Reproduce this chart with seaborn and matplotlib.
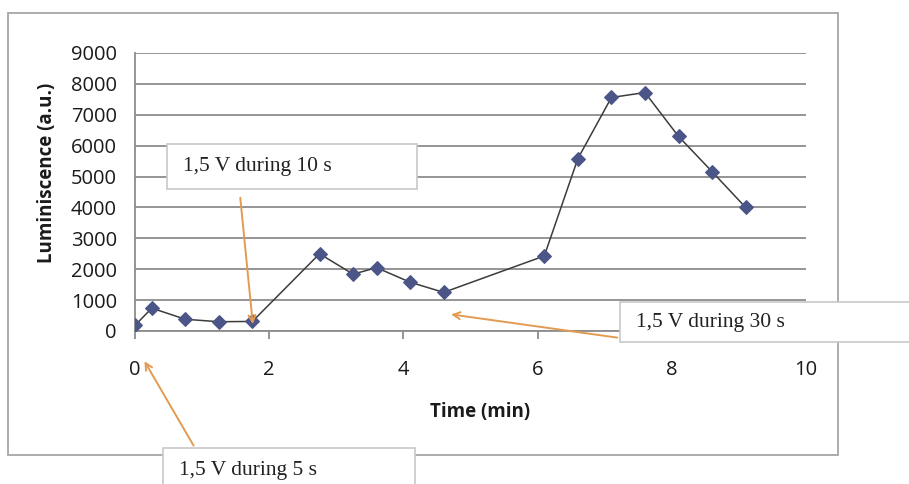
import matplotlib
matplotlib.use("Agg")
import matplotlib.pyplot as plt
import seaborn as sns
import pandas as pd
from matplotlib.patches import Rectangle

time_min = [0.0, 0.25, 0.75, 1.25, 1.75, 2.75, 3.25, 3.6, 4.1, 4.6, 6.1, 6.6, 7.1, 7.6, 8.1, 8.6, 9.1]
luminescence = [180, 740, 380, 300, 310, 2500, 1840, 2050, 1580, 1250, 2430, 5580, 7560, 7720, 6300, 5160, 4000]
x_ticks = [0, 2, 4, 6, 8, 10]
y_ticks = [0, 1000, 2000, 3000, 4000, 5000, 6000, 7000, 8000, 9000]
annotations = ["1,5 V during 10 s", "1,5 V during 30 s", "1,5 V during 5 s"]

df = pd.DataFrame({"Time (min)": time_min, "Luminiscence (a.u.)": luminescence})

sns.set_style("white")
plt.rcParams["font.family"] = ["Open Sans", "DejaVu Sans"]

W, H = 909, 484
fig = plt.figure(figsize=(W / 100, H / 100), dpi=100)

def fx(px):
    return px / W

def fy(py):
    return 1 - py / H

# outer chart border
fig.add_artist(Rectangle((fx(8), fy(455)), fx(838) - fx(8), fy(13) - fy(455),
                         transform=fig.transFigure, fill=False, edgecolor="#a6a6a6", lw=1.3))

ax = fig.add_axes([fx(135), fy(331), fx(806) - fx(135), fy(53) - fy(331)])
sns.lineplot(data=df, x="Time (min)", y="Luminiscence (a.u.)", ax=ax, color="#3c3c3c", lw=1.1,
             marker="D", markersize=7, markerfacecolor="#4c5587", markeredgecolor="#4c5587", zorder=3)

ax.set_xlim(0, 10)
ax.set_ylim(0, 9000)
ax.set_xticks(x_ticks)
ax.set_yticks(y_ticks)
ax.yaxis.grid(True, color="#8c8c8c", lw=1.3)
ax.xaxis.grid(False)
for s in ["top", "right"]:
    ax.spines[s].set_visible(False)
for s in ["left", "bottom"]:
    ax.spines[s].set_color("#8c8c8c")
    ax.spines[s].set_linewidth(1.3)
ax.tick_params(axis="y", length=6, width=1.3, color="#8c8c8c", pad=7, labelsize=14.5, labelcolor="#1a1a1a")
ax.tick_params(axis="x", length=6, width=1.3, color="#8c8c8c", pad=15, labelsize=14.5, labelcolor="#1a1a1a",
               bottom=True)
ax.set_xlabel("Time (min)", fontsize=13.5, fontweight="bold", color="#1a1a1a")
ax.set_ylabel("Luminiscence (a.u.)", fontsize=13.5, fontweight="bold", color="#1a1a1a")
ax.xaxis.set_label_coords((480 - 135) / 671, (331 - 412) / 278)
ax.yaxis.set_label_coords((47 - 135) / 671, (331 - 173) / 278)
ax.xaxis.label.set_va("center")
ax.yaxis.label.set_va("center")

arrow_color = "#e39a52"
serif = ["Liberation Serif", "DejaVu Serif"]

boxes = [
    (167, 144, 417, 189, annotations[0], (1.76, 130), (240, 195)),
    (620, 302, 915, 342, annotations[1], (4.67, 550), (620, 338)),
    (163, 448, 415, 495, annotations[2], (0.12, -900), (195, 448)),
]
for x0, y0, x1, y1, txt, xy, tail in boxes:
    ax.annotate("", xy=xy, xycoords="data", xytext=(tail[0], H - tail[1]), textcoords="figure pixels",
                arrowprops=dict(arrowstyle="->,head_length=0.5,head_width=0.25", color=arrow_color, lw=1.4),
                annotation_clip=False, zorder=5)
    fig.add_artist(Rectangle((fx(x0), fy(y1)), fx(x1) - fx(x0), fy(y0) - fy(y1),
                             transform=fig.transFigure, facecolor="white", edgecolor="#c8c8c8", lw=1.2,
                             zorder=6))
    fig.text(fx(x0 + 16), fy(min(y0 + 22, (y0 + y1) / 2)), txt, family=serif, fontsize=15.5,
             va="center", ha="left", color="#222222", zorder=7)

fig.savefig("out.png", dpi=100)
